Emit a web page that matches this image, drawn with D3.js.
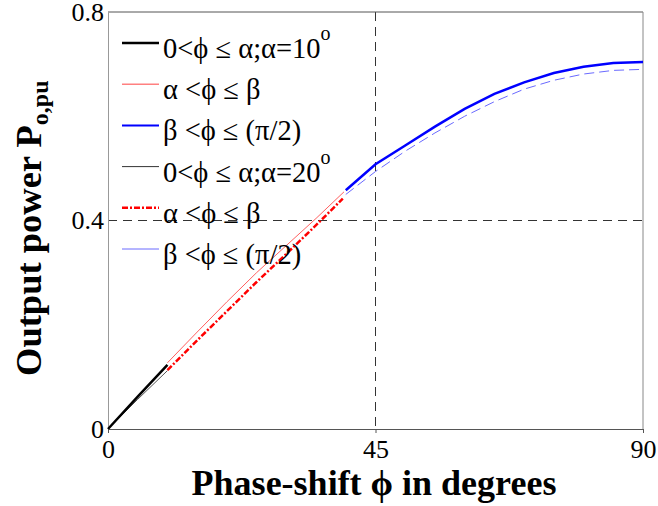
<!DOCTYPE html>
<html><head><meta charset="utf-8">
<script src="https://cdn.jsdelivr.net/npm/d3@7"></script>
<style>body{margin:0;background:#fff}svg{display:block}</style>
</head><body>
<svg id="c" width="658" height="506"></svg>
<script>
// ---- data (phase-shift in degrees, output power in pu) ----
const blackThick = [[0,0],[5,0.062],[10,0.123]];
const redThin    = [[10,0.127],[15,0.186],[20,0.244],[25,0.300],[30,0.352],[35,0.404],[39.7,0.455]];
const blueThick  = [[40,0.458],[45,0.508],[50,0.544],[55,0.580],[60,0.614],[65,0.643],[70,0.665],[75,0.683],[80,0.695],[85,0.702],[90,0.704]];
const blackThin  = [[0,0],[5,0.057],[10,0.112]];
const redDashDot = [[10,0.113],[15,0.170],[20,0.226],[25,0.282],[30,0.336],[35,0.391],[39.5,0.442]];
const blueThin   = [[40,0.450],[45,0.494],[50,0.533],[55,0.568],[60,0.600],[65,0.628],[70,0.652],[75,0.669],[80,0.681],[85,0.688],[90,0.690]];
const xTicks = [0,45,90];
const yTicks = [0,0.4,0.8];
const legendLabels = [
  ["0<ϕ ≤ α;α=10","o"],
  ["α <ϕ ≤ β",""],
  ["β <ϕ ≤ (π/2)",""],
  ["0<ϕ ≤ α;α=20","o"],
  ["α <ϕ ≤ β",""],
  ["β <ϕ ≤ (π/2)",""]
];

const svg = d3.select("#c");
const L=108,R=643,T=12,B=429;
const x = d3.scaleLinear().domain([0,90]).range([L,R]);
const y = d3.scaleLinear().domain([0,0.8]).range([B,T]);
const serif = "'Liberation Serif','Times New Roman',serif";

// reference dashed lines
svg.append("line").attr("x1",x(45)).attr("x2",x(45)).attr("y1",y(0.8)).attr("y2",y(0))
  .attr("stroke","#333").attr("stroke-dasharray","9,6");
svg.append("line").attr("x1",x(0)).attr("x2",x(90)).attr("y1",y(0.4)).attr("y2",y(0.4))
  .attr("stroke","#333").attr("stroke-dasharray","9,6");

// frame
svg.append("line").attr("x1",L).attr("x2",R).attr("y1",T).attr("y2",T).attr("stroke","#555");
svg.append("line").attr("x1",R).attr("x2",R).attr("y1",T).attr("y2",B).attr("stroke","#888");

// axes
const xAxis = svg.append("g").attr("transform",`translate(0,${B})`)
  .call(d3.axisBottom(x).tickValues(xTicks).tickSize(4).tickFormat(d3.format("d")));
xAxis.attr("font-family",serif);
xAxis.select(".domain").attr("stroke","#555");
xAxis.selectAll(".tick line").attr("stroke","#555");
xAxis.selectAll("text").attr("font-family",serif).attr("font-size",26).attr("fill","#000").attr("dy","0.85em");

const yAxis = svg.append("g").attr("transform",`translate(${L},0)`)
  .call(d3.axisLeft(y).tickValues(yTicks).tickSize(0).tickPadding(4).tickFormat(d=>d===0?"0":d3.format(".1f")(d)));
yAxis.attr("font-family",serif);
yAxis.select(".domain").attr("stroke","#999");
yAxis.selectAll("text").attr("font-family",serif).attr("font-size",26).attr("fill","#000");

// curves
const line = d3.line().x(d=>x(d[0])).y(d=>y(d[1]));
const styles = [
  {data:blackThin,  stroke:"#555", w:1},
  {data:redDashDot, stroke:"#ff0000", w:2.5, dash:"6,2,2,2"},
  {data:blueThin,   stroke:"#6a6aff", w:1, dash:"10,5"},
  {data:blackThick, stroke:"#000", w:2.5},
  {data:redThin,    stroke:"#ff6060", w:1},
  {data:blueThick,  stroke:"#0000ff", w:2.5}
];
styles.forEach(s=>{
  svg.append("path").attr("d",line(s.data)).attr("fill","none")
    .attr("stroke",s.stroke).attr("stroke-width",s.w)
    .attr("stroke-dasharray",s.dash||null);
});

// legend
const legStyles = [
  {stroke:"#000", w:2.5},
  {stroke:"#ff8080", w:1.5},
  {stroke:"#0000ff", w:2},
  {stroke:"#333", w:1},
  {stroke:"#ff0000", w:2.5, dash:"6,2,2,2"},
  {stroke:"#6a6aff", w:1}
];
legendLabels.forEach((lab,i)=>{
  const ly = 43 + i*41.2;
  const st = legStyles[i];
  svg.append("line").attr("x1",122).attr("x2",159).attr("y1",ly).attr("y2",ly)
    .attr("stroke",st.stroke).attr("stroke-width",st.w).attr("stroke-dasharray",st.dash||null);
  const t = svg.append("text").attr("x",163).attr("y",ly+15)
    .attr("font-family",serif).attr("font-size",28.5).attr("fill","#000");
  t.append("tspan").text(lab[0]);
  if(lab[1]) t.append("tspan").attr("font-size",20).attr("dy","-0.9em").text(lab[1]);
});

// axis titles
svg.append("text").attr("x",374).attr("y",495).attr("text-anchor","middle")
  .attr("font-family",serif).attr("font-weight","bold").attr("font-size",36)
  .text("Phase-shift ϕ in degrees");

const yt = svg.append("text").attr("transform","translate(41,376) rotate(-90)")
  .attr("font-family",serif).attr("font-weight","bold").attr("font-size",36.5);
yt.append("tspan").text("Output power P");
yt.append("tspan").attr("font-size",24).attr("dy","0.3em").text("o,pu");
</script>
</body></html>
